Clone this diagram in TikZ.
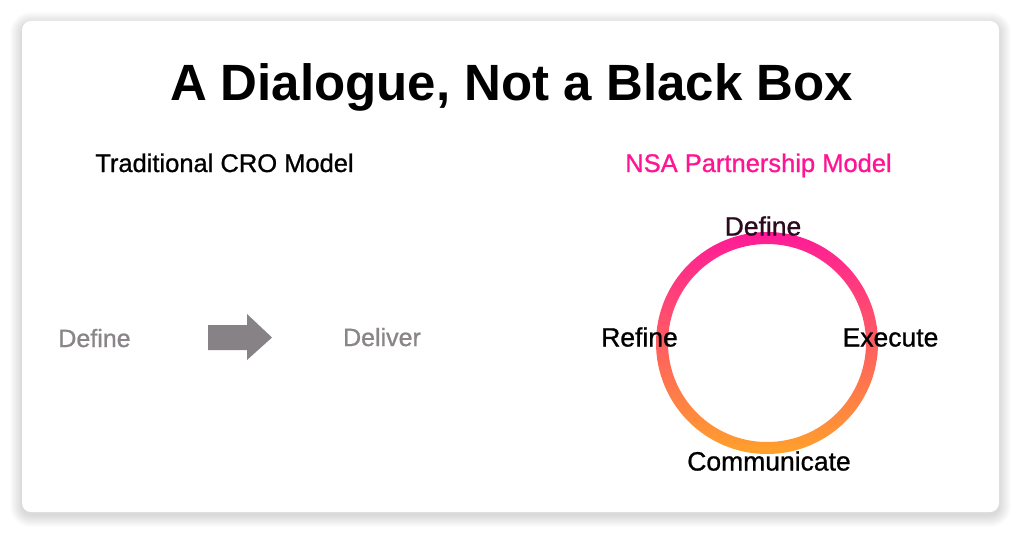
\documentclass[tikz,border=0pt]{standalone}
\usepackage{fontspec}
\setmainfont{Liberation Sans}
\newfontfamily\heavyreg[FakeBold=0.9]{Liberation Sans}
\definecolor{pinkc}{HTML}{FF1493}
\definecolor{ringtop}{HTML}{FF1A98}
\definecolor{ringbot}{HTML}{FFA12A}
\definecolor{graytxt}{HTML}{8A8588}
\definecolor{grayarrow}{HTML}{878285}
\definecolor{darkdef}{HTML}{2B0B1E}
\tikzset{
  title/.style={font=\fontsize{51}{60}\bfseries\selectfont, anchor=base, inner sep=0pt},
  head/.style={font=\heavyreg\fontsize{25.5}{30}\selectfont, anchor=base, inner sep=0pt},
  oldstep/.style={font=\heavyreg\fontsize{25}{30}\selectfont, text=graytxt, anchor=base, inner sep=0pt},
  cyclelabel/.style={font=\heavyreg\fontsize{26.5}{31}\selectfont, anchor=base, inner sep=0pt},
  card/.style={fill=white, rounded corners=9pt},
  shadowlayer/.style={fill=black, fill opacity=0.011}
}
\begin{document}
\begin{tikzpicture}[x=1pt,y=-1pt]
\useasboundingbox[fill=white] (0,0) rectangle (1024,535);
\foreach \i in {1,...,12}{
  \path[shadowlayer, rounded corners={9pt+\i pt}] (22-\i,21-\i+3) rectangle (999+\i,512+\i+3);
}
\path[card] (22,21) rectangle (999,512);
\node[title] (ttl) at (511.5,100) {A Dialogue, Not a Black Box};
\node[head] (trad) at (224.5,172) {Traditional CRO Model};
\node[head, text=pinkc] (nsa) at (758.5,172) {NSA Partnership Model};
% traditional
\node[oldstep] (tdef) at (94.5,347) {Define};
\node[oldstep] (tdel) at (382,346) {Deliver};
\path[fill=grayarrow] (208,325) -- (247,325) -- (247,314) -- (272,337.5) -- (247,360) -- (247,350) -- (208,350) -- cycle;
% ring
\coordinate (c) at (767,343);
\shade[top color=ringtop, bottom color=ringbot, even odd rule] (c) circle (111) (c) circle (99);
\node[cyclelabel, text=darkdef] (cdef) at (763,235.5) {Define};
\node[cyclelabel] (cref) at (639.5,346.5) {Refine};
\node[cyclelabel] (cexe) at (890.5,346.5) {Execute};
\node[cyclelabel] (ccom) at (769,470.5) {Communicate};
\end{tikzpicture}
\end{document}
